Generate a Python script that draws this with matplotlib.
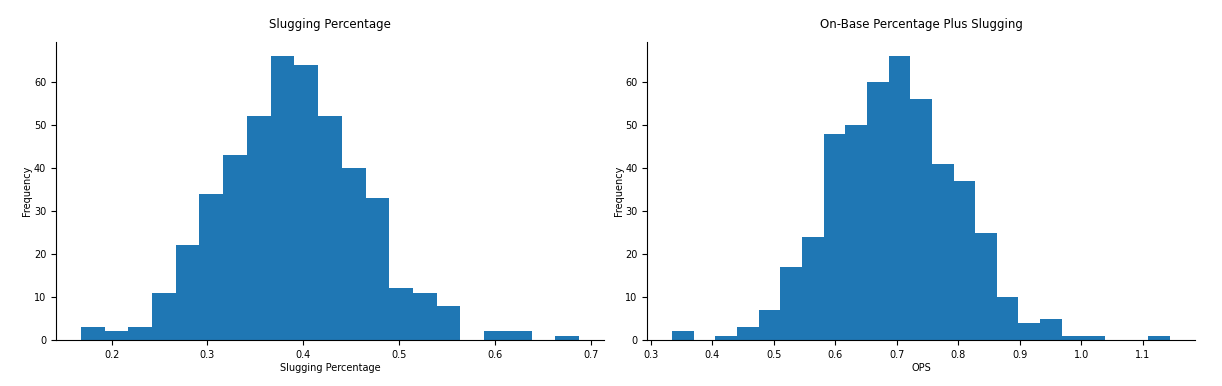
import numpy as np
import matplotlib
matplotlib.use('Agg')
import matplotlib.pyplot as plt

# bin counts
slg_counts = [3, 2, 3, 11, 22, 34, 43, 52, 66, 64, 52, 40, 33, 12, 11, 8, 0, 2, 2, 0, 1]
slg_range = (0.168, 0.6874)

ops_counts = [2, 0, 1, 3, 7, 17, 24, 48, 50, 60, 66, 56, 41, 37, 25, 10, 4, 5, 1, 1, 0, 0, 1]
ops_range = (0.3348, 1.144)

titles = ['Slugging Percentage', 'On-Base Percentage Plus Slugging']
xlabels = ['Slugging Percentage', 'OPS']

fig = plt.figure(figsize=(12.22, 3.86), dpi=100)
ax1 = fig.add_axes([0.0458, 0.119, 0.4484, 0.772])
ax2 = fig.add_axes([0.5295, 0.119, 0.4484, 0.772])


def hist_panel(ax, counts, rng, title, xlabel):
    edges = np.linspace(rng[0], rng[1], len(counts) + 1)
    centers = (edges[:-1] + edges[1:]) / 2
    ax.hist(centers, bins=edges, weights=counts, color='#1f77b4', linewidth=0)
    ax.set_title(title, fontsize=8.5, pad=10)
    ax.set_xlabel(xlabel, fontsize=7, labelpad=2)
    ax.set_ylabel('Frequency', fontsize=7, labelpad=1)
    ax.tick_params(labelsize=7)
    ax.spines['top'].set_visible(False)
    ax.spines['right'].set_visible(False)


hist_panel(ax1, slg_counts, slg_range, titles[0], xlabels[0])
hist_panel(ax2, ops_counts, ops_range, titles[1], xlabels[1])
ax1.set_yticks([0, 10, 20, 30, 40, 50, 60])
ax2.set_yticks([0, 10, 20, 30, 40, 50, 60])

plt.savefig('out.png', dpi=100)
